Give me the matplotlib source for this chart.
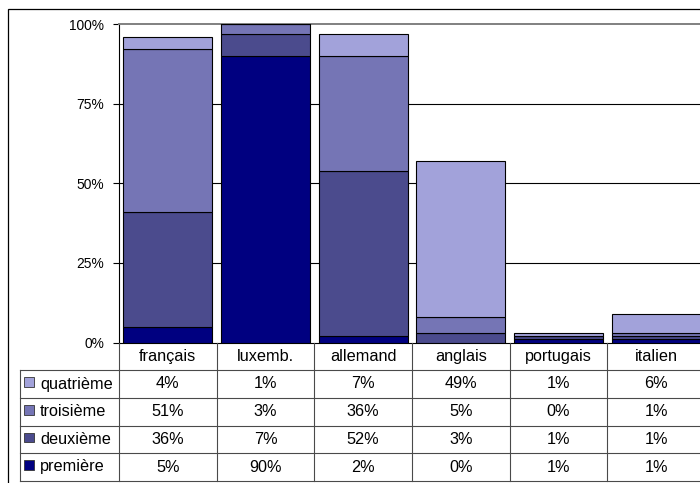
import matplotlib
matplotlib.use("Agg")
import matplotlib.pyplot as plt
from matplotlib.patches import Rectangle
from matplotlib.lines import Line2D
from matplotlib.transforms import blended_transform_factory
import numpy as np

categories = ["français", "luxemb.", "allemand", "anglais", "portugais", "italien"]
series_names = ["première", "deuxième", "troisième", "quatrième"]
premiere = [5, 90, 2, 0, 1, 1]
deuxieme = [36, 7, 52, 3, 1, 1]
troisieme = [51, 3, 36, 5, 0, 1]
quatrieme = [4, 1, 7, 49, 1, 6]
series_values = [premiere, deuxieme, troisieme, quatrieme]
colors = ["#000080", "#4B4B8D", "#7575B5", "#A2A2DA"]
yticks = [0, 25, 50, 75, 100]
ytick_labels = ["0%", "25%", "50%", "75%", "100%"]

plt.rcParams['font.family'] = ['Liberation Sans', 'DejaVu Sans']

W, H = 700, 483
fig = plt.figure(figsize=(W / 100, H / 100), dpi=100)

def fx(px):
    return px / W

def fy(py):
    return 1 - py / H

ax_left, ax_right, ax_top, ax_bottom = 119, 705, 24, 342.5
ax = fig.add_axes([fx(ax_left), fy(ax_bottom), fx(ax_right - ax_left), (ax_bottom - ax_top) / H])

x = np.arange(len(categories))
bottom = np.zeros(len(categories))
for vals, col in zip(series_values, colors):
    v = np.array(vals, dtype=float)
    ax.bar(x, v, bottom=bottom, width=0.91, color=col, edgecolor="black",
           linewidth=0.8, zorder=3)
    bottom += v

ax.set_xlim(-0.5, len(categories) - 0.5)
ax.set_ylim(0, 100)
ax.set_yticks(yticks)
ax.set_yticklabels(ytick_labels, fontsize=9.9)
ax.set_xticks([])
for yv in yticks[1:-1]:
    ax.axhline(yv, color="black", linewidth=0.8, zorder=1)
for s in ["top", "right"]:
    ax.spines[s].set_color("#808080")
    ax.spines[s].set_linewidth(1.4)
ax.spines["left"].set_color("black")
ax.spines["left"].set_linewidth(0.8)
ax.spines["bottom"].set_color("black")
ax.spines["bottom"].set_linewidth(0.8)
ax.tick_params(axis="y", direction="out", length=4.5, width=0.8, pad=6, colors="black")

# Data table
tr = blended_transform_factory(ax.transData, fig.transFigure)
line_col = "#4a4a4a"
lw = 0.8
header_top, header_bot = 342.5, 370
row_bounds = [370, 398, 426, 453, 481]
table_left = 20

def hline(y, x0, x1):
    fig.add_artist(Line2D([fx(x0), fx(x1)], [fy(y), fy(y)], transform=fig.transFigure,
                          color=line_col, linewidth=lw))

# horizontal lines
hline(header_bot, table_left, 710)
for yb in row_bounds[1:]:
    hline(yb, table_left, 710)
# vertical lines
fig.add_artist(Line2D([fx(table_left), fx(table_left)], [fy(row_bounds[0]), fy(row_bounds[-1])],
                      transform=fig.transFigure, color=line_col, linewidth=lw))
for i in range(len(categories) + 1):
    xb = i - 0.5
    fig.add_artist(Line2D([xb, xb], [fy(header_top), fy(row_bounds[-1])], transform=tr,
                          color=line_col, linewidth=lw))

table_fs = 11.7
for i, c in enumerate(categories):
    fig.text(i, fy((header_top + header_bot) / 2), c, transform=tr, ha="center",
             va="center", fontsize=table_fs)

row_order = list(range(len(series_names)))[::-1]  # quatrième first
for r, si in enumerate(row_order):
    yc = (row_bounds[r] + row_bounds[r + 1]) / 2
    # swatch
    sw = 9.5
    fig.add_artist(Rectangle((fx(24), fy(yc - 2 + sw / 2)), fx(sw), sw / H,
                             transform=fig.transFigure, facecolor=colors[si],
                             edgecolor="#333333", linewidth=0.6))
    fig.text(fx(40), fy(yc), series_names[si], ha="left", va="center", fontsize=table_fs)
    for i, v in enumerate(series_values[si]):
        fig.text(i, fy(yc), f"{v}%", transform=tr, ha="center", va="center",
                 fontsize=table_fs)

# outer chart frame
fig.add_artist(Rectangle((fx(7.5), fy(600)), fx(800), (600 - 9) / H,
                         transform=fig.transFigure, facecolor="none",
                         edgecolor="black", linewidth=0.9, clip_on=False))

fig.savefig("out.png", dpi=100)
